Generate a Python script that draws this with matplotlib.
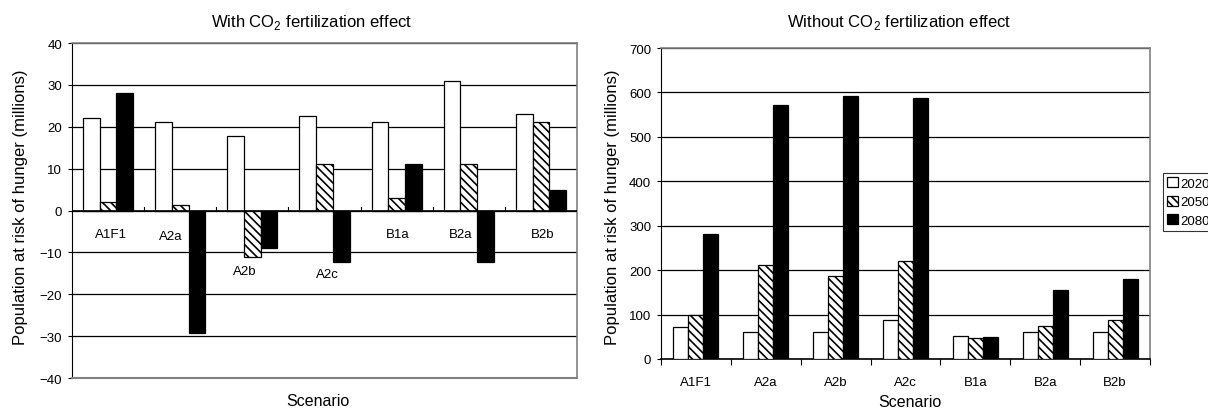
import numpy as np
import matplotlib
matplotlib.use("Agg")
import matplotlib.pyplot as plt

plt.rcParams['font.family'] = ['Liberation Sans', 'DejaVu Sans']
plt.rcParams['mathtext.fontset'] = 'custom'
plt.rcParams['mathtext.rm'] = 'Liberation Sans'
plt.rcParams['hatch.linewidth'] = 1.2
plt.rcParams['hatch.color'] = '#444444'

# data
scenarios = ['A1F1', 'A2a', 'A2b', 'A2c', 'B1a', 'B2a', 'B2b']
years = ['2020', '2050', '2080']

with_co2_2020 = [22, 21.1, 17.8, 22.5, 21.1, 31, 23]
with_co2_2050 = [2, 1.2, -11, 11, 2.9, 11, 21.1]
with_co2_2080 = [28, -29.2, -9, -12.2, 11, -12.2, 5]

without_co2_2020 = [71, 60, 60, 87, 52, 60, 60]
without_co2_2050 = [100, 212, 187, 220, 48, 75, 87]
without_co2_2080 = [281, 572, 591, 587, 49, 156, 180]

# where Excel dropped the category labels in the left panel (x shift, y value)
lab_dx = [0.04, -0.13, -0.11, 0.04, 0.01, -0.11, 0.03]
lab_y = [-5.6, -6.0, -14.4, -15.2, -5.6, -5.6, -5.6]

styles = [dict(color='white'),
          dict(color='white', hatch='\\\\\\\\'),
          dict(color='black')]

W, H = 1208, 410
fig = plt.figure(figsize=(W / 100, H / 100), dpi=100)
ax1 = fig.add_axes([72 / W, 1 - 379 / H, 505 / W, 335 / H])
ax2 = fig.add_axes([661 / W, 1 - 360 / H, 489 / W, 311 / H])

x = np.arange(len(scenarios))


def bars(ax, series, bw):
    handles = []
    for i, vals in enumerate(series):
        b = ax.bar(x + (i - 1) * bw, vals, bw, linewidth=0.9, label=years[i],
                   zorder=3, **styles[i])
        for p in b.patches:
            p.set_edgecolor('black')
        handles.append(b)
    ax.set_xlim(-0.5, len(scenarios) - 0.5)
    for s in ['top', 'right']:
        ax.spines[s].set_color('#808080')
        ax.spines[s].set_linewidth(1.2)
    ax.spines['left'].set_color('black')
    ax.yaxis.grid(True, color='black', linewidth=0.9, zorder=0)
    ax.set_axisbelow(True)
    ax.tick_params(axis='y', labelsize=9.5, length=3, width=0.8, pad=4)
    return handles


# left panel
bars(ax1, [with_co2_2020, with_co2_2050, with_co2_2080], 0.232)
ax1.set_ylim(-40, 40)
ax1.set_yticks(np.arange(-40, 41, 10))
ax1.set_yticklabels([str(v).replace('-', '\u2212') for v in range(-40, 41, 10)])
ax1.spines['bottom'].set_color('#808080')
ax1.spines['bottom'].set_linewidth(1.5)
ax1.set_xticks([])
ax1.axhline(0, color='black', linewidth=1.2, zorder=4)
for k in range(1, len(scenarios)):
    ax1.plot([k - 0.5, k - 0.5], [0, 0.9], color='black', linewidth=0.8, zorder=4)
for i, s in enumerate(scenarios):
    ax1.text(i + lab_dx[i], lab_y[i], s, ha='center', va='center', fontsize=9.5)

# right panel
hs = bars(ax2, [without_co2_2020, without_co2_2050, without_co2_2080], 0.215)
ax2.set_ylim(0, 700)
ax2.set_yticks(np.arange(0, 701, 100))
ax2.spines['bottom'].set_color('black')
ax2.spines['bottom'].set_linewidth(1.2)
ax2.set_xticks(x)
ax2.set_xticklabels(scenarios, fontsize=9.5)
ax2.set_xticks(np.arange(len(scenarios) + 1) - 0.5, minor=True)
ax2.tick_params(axis='x', which='major', length=0, pad=12)
ax2.tick_params(axis='x', which='minor', length=4, width=0.8, direction='out')

# labels
fig.text(312 / W, 1 - 23 / H, r'With CO$_2$ fertilization effect', ha='center',
         va='center', fontsize=12)
fig.text(899 / W, 1 - 23 / H, r'Without CO$_2$ fertilization effect', ha='center',
         va='center', fontsize=12)
fig.text(318 / W, 1 - 402 / H, 'Scenario', ha='center', va='center', fontsize=11.5)
fig.text(910 / W, 1 - 403 / H, 'Scenario', ha='center', va='center', fontsize=11.5)
fig.text(21 / W, 1 - 207 / H, 'Population at risk of hunger (millions)',
         rotation=90, ha='center', va='center', fontsize=12)
fig.text(612 / W, 1 - 207 / H, 'Population at risk of hunger (millions)',
         rotation=90, ha='center', va='center', fontsize=12)

leg = fig.legend(handles=hs, labels=years, loc='upper left',
                 bbox_to_anchor=(1163 / W, 1 - 174 / H), fontsize=9.5,
                 frameon=True, fancybox=False, edgecolor='black',
                 handlelength=0.8, handleheight=0.8, handletextpad=0.2,
                 borderpad=0.3, labelspacing=0.45, borderaxespad=0)
leg.get_frame().set_linewidth(0.8)

fig.savefig('out.png', dpi=100)
